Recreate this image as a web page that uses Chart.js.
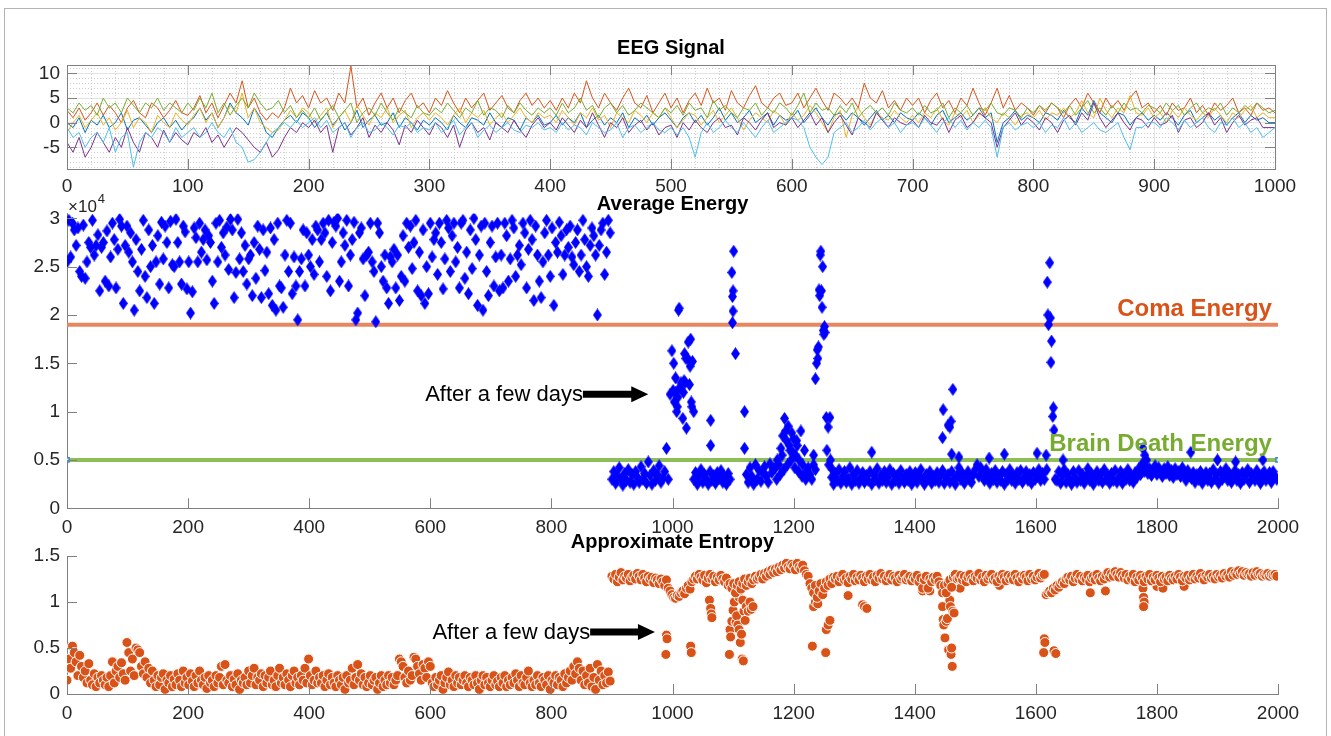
<!DOCTYPE html>
<html lang="en">
<head>
  <meta charset="UTF-8" />
  <title>EEG Signal / Average Energy / Approximate Entropy</title>
  <script src="https://cdn.jsdelivr.net/npm/chart.js"></script>
  <style>
    html, body { margin: 0; background: #fff; overflow: hidden; }
    #frame { position: absolute; left: 4px; top: 8px; width: 1321px; height: 740px; border: 1px solid #b4b4b4; border-bottom: none; }
    canvas { position: absolute; left: 0; }
  </style>
</head>
<body>
  <div id="frame"></div>
  <canvas id="eegChart" width="1331" height="200" style="top:0"></canvas>
  <canvas id="energyChart" width="1331" height="350" style="top:190px"></canvas>
  <canvas id="entropyChart" width="1331" height="216" style="top:520px"></canvas>

  <script>
    const FONT = "'Liberation Sans', Arial, sans-serif";
    const INK = '#262626';

    // ---- EEG signal (one value every 5 samples) ----
    const eegStep = 5;
    const eegXTicks = [0, 100, 200, 300, 400, 500, 600, 700, 800, 900, 1000];
    const eegYTicks = [-5, 0, 5, 10];
    const eegBlue = [0,-1,1,-2,0.5,-0.5,1.5,-1,0,2,-1.5,0.5,1,-0.5,-2,0,1,-1,0.5,-1.5,
      0,1,3,0.5,2,-1,1,4,2,1,-0.5,3,1,-2,-3,-1,0.5,1.5,0,2,
      1,-1,0.5,2,-0.5,1,-1.5,0,2.5,-1,0.5,1.5,-0.5,0,2,-1,1,0,-1.5,0.5,
      -0.5,1,0,-1.5,1.5,0,-1,1,0.5,-0.5,2,0,-1,1,0.5,-1.5,1,0,1.5,-0.5,
      0,1.5,-0.5,1,0,2,-1,0.5,1.5,-0.5,1,0,2,-1,1,0,1.5,-0.5,1,2,
      0.5,-1,1,2,0,1.5,-0.5,1,3,0.5,2,0,1,2.5,0,1,2,-0.5,1.5,0.5,
      1,2.5,0,1.5,3,1,-0.5,1.5,2,0.5,2,1,-0.5,1,2.5,0.5,1.5,0,2,1,
      0.5,2,1,-0.5,1.5,2.5,0,1,2,0.5,1.5,3,1,2,-4,0,1,2.5,0.5,1.5,
      1,0,2,1.5,0.5,2.5,1,0,3,1.5,4.5,2,1,0,2,1.5,-0.5,1,2,0.5,
      1.5,0.5,2,1,-0.5,1.5,2.5,0,1,2,0.5,1.5,-0.5,1,2,0,1.5,0.5,1,0,0];
    const eegOrange = [2.5,1,3,0.5,2,4,1.5,3.5,2,0,3,4.5,2,1,4,3,1,2.5,4.5,2,
      1.5,3,5.5,2,4,1,3.5,6,4,8.5,3,5,2,0.5,2,1,3,7,4,5.5,
      3,6.5,4,5,2.5,6,4,11.5,3,5,1.5,4,6,3,5,2,4.5,6,3,4,
      2,5,3.5,6.5,4,2,5,3,4.5,6,2.5,4,5.5,3,2,4.5,6,3.5,5,3,
      4.5,2.5,5,3,6,4,8.5,5,3,6,4,2.5,5,7,4,3,5.5,2,4,6,
      3,5,2,4.5,6,3.5,7,4,5,2.5,6.5,4,3,5.5,7.5,4,3,5,6,3.5,
      4,6,3,5,7,4.5,2.5,6,5,3.5,5,3,8,5,4,6.5,3,4.5,2.5,5,
      3.5,5,2,4.5,6,3,4.5,2,5,3.5,7,4,1.5,4,7,3,5.5,2.5,4,3,
      1.5,3.5,2,4,3,1,3.5,5,3,6,4,2,5,3,4.5,2.5,5,6.5,3,4,
      2,3.5,1.5,4,2.5,3,5,2,3.5,1.5,4,2.5,3.5,5,2,3,1.5,4,2.5,3,2];
    const eegYellow = [-2,0,1.5,-1,0.5,2,-0.5,1,-1.5,0,2.5,-1,1,0,-2,1.5,0,-1,2,0.5,
      -0.5,1.5,3,0,2,-1,1,3.5,2,6,1,3,0,-1,-2,-1.5,0.5,2.5,1,3,
      2,0,1.5,3,-1,1,2.5,0,3.5,1.5,-0.5,2,1,3,0,1.5,2.5,-1,1,2,
      0.5,2,1,-0.5,1.5,3,0,2,1,2.5,-0.5,1,2,0,1.5,3,1,0,2,1,
      1.5,0,2.5,1,-0.5,2,1,3,0.5,1.5,-1,2,1,0,2.5,1.5,0,2,1,3,
      1,-1,0.5,2,1.5,-0.5,1,2.5,0,1.5,3,1,-1.5,0.5,2,1,0,2.5,1.5,-0.5,
      2,0.5,1.5,3.5,2,0,-2,1,2.5,-3,1.5,3,1,-0.5,2,1,0.5,2.5,1,0,
      1.5,0,2,1,3,0.5,-0.5,2,1,2.5,0,1.5,3,1,0,2,1,-0.5,1.5,2,
      1,2.5,0.5,2,1.5,3,1,2,4.5,2,1,5,2.5,1,3,2,5.5,2,1.5,3,
      1,2,0,2.5,1,3,1.5,0.5,2,1,3,1.5,0,2,1,2.5,3.5,1,2,1,1];
    const eegPurple = [-4,-6,-3,-7,-5,-2,-4,-6,-3,-5,-1,-4,-6,-2,-3,-5,-1.5,-4,-2,-3.5,
      -4.5,-2,-3,-1,-4,-2.5,-5,-3,-1,-2,-3.5,-5,-6,-4,-7,-5.5,-3,-1,-2,0,
      -1,0.5,-2,-0.5,-6,-1,0,-2.5,-1,1,-3,-0.5,-2,0,-1.5,-4.5,-0.5,-2,0.5,-1,
      -2.5,0,-1,-3,-0.5,-5,-1.5,0,-2,-1,-3.5,0,-1,-2,0.5,-1.5,-3,-0.5,1,-1,
      0,-1.5,1,-0.5,-2,0.5,-1,2,-0.5,-3,0,-1,1,-2,-0.5,0.5,-1.5,0,-2.5,-1,
      -0.5,-3,0,-1.5,0.5,-1,-2,0,1,-1,-0.5,-2.5,1,0,-1.5,0.5,2,-1,0,-0.5,
      1,-1,0.5,2,-0.5,1,-2,0,1.5,-0.5,-2.5,1,0,-1,2,0.5,-1,1,0,-0.5,
      0.5,-1,1.5,0,-0.5,1,-2,0.5,1.5,-1,0,2,1,0,-5,-1,0.5,2,-0.5,1,
      0,-1.5,1,0,-2,0.5,1.5,-0.5,2,0.5,4,1,-1,0.5,2,0,-1.5,1,0.5,-1,
      1,-0.5,0,1.5,-2,0.5,1,-1,0,2,-0.5,1,-2,0,1.5,-0.5,0.5,1,-1,-1,-1];
    const eegGreen = [3,2,4,2.5,3.5,1.5,5,3,4,2,5,3.5,2,4,3,5,2.5,4,3,2,
      4,2.5,5,3,6,2,4,1.5,3.5,5,3,6,4,2.5,3,4.5,2,3.5,1,2.5,
      1,3,0.5,2,3.5,1,2.5,4,0,2,3,1.5,4,2,0.5,3,2,1,3.5,2,
      1.5,3,2,4,2.5,1,3,2,4.5,1.5,3,2.5,1,3.5,2,4,2.5,1.5,3,2,
      3,1.5,4,2,3,5,2.5,3.5,1,3,4,2,3.5,1.5,2.5,4,3,2,1,3,
      2,3.5,1.5,4,2.5,3,1,4.5,2.5,3.5,2,1,3,2.5,4,1.5,3,2,4,3,
      1.5,3.5,6,2,4,2.5,3,1.5,3.5,2,4,1,2.5,3.5,2,3,1.5,4,2.5,2,
      3,1.5,3.5,2,2.5,4,1,3,2,3.5,1.5,3,2.5,4,2,1.5,3,2.5,1,3,
      2,3.5,2.5,4,3,2,3.5,1.5,3,4.5,2,3,1.5,3.5,2,4,2.5,3,2,3.5,
      3,2,4,2.5,3.5,1.5,3,4,2,3,2.5,4,1.5,3,2,3.5,2.5,4,3,2,2.5];
    const eegCyan = [-1,-3,-2,-5,-3,-2,-4,-1,-6,-3,-2,-9,-4,-2,-3,-1,-2,-4,-1,-3,
      -2,-1,-3,-2,0,-2,-3,-1,-4,-5,-8,-7.5,-6,-4,-2,-1,0,-1,0.5,-1,
      0,1,-1,0.5,-2,-1,0,-3,-1,0,-2,-1.5,0,-1,-2.5,-0.5,-1,0,-2,-1,
      -1.5,0,-2,-1,0.5,-2.5,-1,0,-3,-1.5,-0.5,-2,-1,0,-1.5,-2,-0.5,-1,0,-1.5,
      -1,-2,0,-1.5,-0.5,-1,-2.5,0,-1,-2,-1.5,0,-3,-1,-0.5,-2,-1,0,-1.5,-2,
      -1,-2.5,-1,-3,-7,-2,0,-2,-1,0.5,-1,-2,0,-1.5,-3,-1,0.5,-2,-1,0,
      1,0.5,-1,-5,-7,-8.5,-7,-2,-1,0,-2,-1,0.5,-1.5,0,1,-1,0,-2,-0.5,
      0,-1,1,-0.5,-2,0,1,-1,0.5,-1.5,0,-1,0.5,-1,-7,-1,0,-1.5,-0.5,0,
      -1,0,-2,-0.5,-1,1,-1.5,0,-2,-1,0,-1.5,-2,-1,0,-3,-5.5,-1,-1,0,
      0,-1,1,0,-1.5,0.5,-1,0,1,-1,-2,0,-0.5,1,-1,0,-2,-1,-3,-2,-1];

    // ---- Average energy, x10^4 (one value every 3 samples, null = above the axis) ----
    const energyStep = 3;
    const energyXTicks = [0, 200, 400, 600, 800, 1000, 1200, 1400, 1600, 1800, 2000];
    const energyYTicks = [0, 0.5, 1, 1.5, 2, 2.5, 3];
    const comaLevel = 1.9;
    const brainDeathLevel = 0.5;
    const energy = [2.55,2.98,2.6,2.95,2.88,2.72,2.9,2.45,2.4,2.93,2.38,2.55,2.75,2.7,2.98,2.62,2.72,2.83,2.25,2.7,
      2.75,2.35,2.87,2.3,2.6,2.95,2.78,2.28,2.68,2.99,2.92,2.12,2.72,2.92,2.65,2.85,2.55,2.05,2.78,2.45,
      2.25,2.68,2.98,2.4,2.18,2.88,2.5,2.72,2.12,2.55,2.82,2.32,2.96,2.58,2.92,2.75,2.28,2.97,2.52,2.5,
      2.99,2.75,2.55,2.32,2.92,2.86,2.27,2.55,2.02,2.24,2.9,2.8,2.55,2.95,2.65,2.78,2.88,2.57,2.82,2.75,
      2.35,2.12,2.95,2.55,2.98,2.7,2.85,2.62,2.91,2.47,2.99,2.88,2.18,2.44,2.99,2.58,2.85,2.45,2.72,2.32,
      2.58,2.62,2.2,2.75,2.38,2.92,2.68,2.18,2.88,2.46,2.65,2.22,2.9,2.1,2.78,2.05,2.95,2.3,2.28,2.08,
      2.62,2.98,2.45,2.95,2.22,2.6,2.3,1.95,2.45,2.58,2.88,2.3,2.85,2.62,2.5,2.78,2.42,2.92,2.88,2.55,
      2.78,2.95,2.85,2.4,2.98,2.25,2.75,2.96,2.92,3.0,2.35,2.55,2.85,2.72,2.98,2.3,2.62,2.78,2.96,1.95,
      2.02,2.85,2.9,2.58,2.2,2.62,2.65,2.95,2.55,2.45,1.93,2.95,2.85,2.5,2.35,2.62,2.28,2.12,2.6,2.55,
      2.68,2.28,2.62,2.15,2.4,2.82,2.35,2.95,2.7,2.92,2.48,2.75,2.98,2.25,2.65,2.2,2.88,2.12,2.5,2.22,
      2.95,2.6,2.78,2.85,2.42,2.95,2.75,2.27,2.58,2.98,2.9,2.45,2.82,2.95,2.55,2.7,2.28,2.95,2.98,2.38,
      2.65,2.22,2.88,2.48,3.0,2.78,2.1,2.62,2.92,2.05,2.95,2.45,2.2,2.75,2.92,2.3,2.6,2.95,2.25,2.62,
      2.28,2.95,2.82,2.35,2.58,2.98,2.9,2.4,2.62,2.72,2.52,2.95,2.85,2.28,2.68,2.98,2.78,2.15,2.92,2.62,
      2.35,2.18,2.55,2.85,2.98,2.62,2.4,2.9,2.1,2.75,2.65,2.96,2.82,2.42,2.62,2.88,2.7,2.92,2.6,2.52,
      2.75,2.88,2.45,2.62,2.98,2.78,2.5,2.4,2.72,2.9,2.82,2.62,2.0,2.72,2.88,2.95,2.42,2.65,2.98,2.85,
      // from sample 900
      .3,.38,.26,.33,.42,.3,.24,.36,.29,.4,.27,.35,.25,.38,.32,.27,.43,.3,.36,.26,
      .48,.34,.25,.39,.29,.35,.44,.27,.31,.38,.62,.3,
      1.18,1.63,1.5,1.2,1.05,2.07,1.3,.93,1.6,.83,1.72,1.47,1.05,
      .3,.37,.25,.33,.4,.27,.35,.3,.25,.38,.29,.34,.26,.37,.31,.39,.27,.33,.25,.36,.3,
      2.44,2.66,1.6,null,null,null,null,1.0,
      .35,.27,.42,.33,.25,.45,.3,.39,.28,.37,.43,.33,.27,.46,.37,.41,
      .42,.5,.45,.62,.75,.93,.7,.85,.6,.78,.72,.55,.65,.5,.8,.45,.6,.38,.42,.35,
      .3,.45,1.34,1.64,2.26,2.66,2.5,1.88,.94,.84,.94,
      .32,.25,.36,.29,.4,.26,.33,.38,.27,.31,.42,.25,.35,.29,.39,.26,.32,.37,.27,.34,
      .29,.38,.25,.35,.3,.41,.26,.34,.29,.38,.27,.32,.4,.25,.36,.29,.34,.26,.39,.31,
      .27,.35,.29,.38,.25,.32,.37,.27,.34,.4,.29,.25,.35,.31,.38,.26,.33,.29,.37,.27,
      .34,.39,.26,.31,.35,.27,.38,.29,.25,.34,.42,.3,.36,.26,.32,.38,.29,.27,.35,.4,
      .45,.33,.42,.37,.29,.4,.34,.26,.36,.3,.39,.27,.34,.29,.38,.25,.35,.3,.4,.29,
      .34,.26,.37,.3,.39,.27,.32,.38,.29,.35,.26,.37,.3,.33,.4,.29,.36,
      .3,.55,2.0,2.54,1.73,1.04,.3,
      .29,.38,.26,.34,.4,.27,.35,.3,.25,.38,.32,.27,.39,.29,.35,.26,.33,.41,.29,.36,
      .25,.32,.38,.29,.35,.27,.4,.3,.34,.26,.36,.29,.39,.27,.32,.38,.26,.35,.3,.4,
      .29,.34,.27,.37,.32,.41,.35,.46,.38,.43,.36,.41,.34,.4,.44,.35,.42,.37,.33,.41,
      .36,.43,.34,.39,.32,.41,.35,.38,.33,.42,.36,.29,.39,.34,.31,.37,.27,.35,.3,.38,
      .26,.33,.37,.29,.36,.27,.4,.31,.35,.26,.38,.3,.33,.41,.29,.36,.27,.32,.39,.29,
      .35,.26,.37,.3,.34,.4,.27,.36,.32,.29,.39,.33,.26,.35,.38,.29,.32,.37,.27,.38,
      .33,.3];
    // extra samples inside the bursts
    const energyExtraX = [1001,1003,1005,1007,1009,1010,1012,1018,1019,1021,1022,1025,1028,1030,1031,1033,1035,
      1063,1063,1099,1100,1100,1099,1119,
      1172,1178,1181,1184,1187,1190,1193,1196,1199,1202,1205,1208,1214,1220,
      1233,1236,1238,1240,1241,1243,1244,1246,1247,1249,1250,1252,1255,1258,1261,1264,
      1329,1446,1447,1455,1458,1460,1461,1463,1473,1523,1548,1602,
      1618,1619,1621,1624,1625,1628,1630,
      1645,1777,1780,1783,1856,1900,1930,1975];
    const energyExtraY = [1.22,1.1,1.35,1.0,1.15,2.05,1.25,1.2,1.32,1.3,1.55,1.55,1.28,1.75,1.1,1.52,1.0,
      .91,.65,2.19,2.25,2.04,1.92,.62,
      .3,.35,.55,.4,.8,.45,.65,.5,.58,.42,.7,.38,.33,.3,
      .55,.4,1.5,1.55,1.67,2.2,2.62,2.25,2.08,1.84,1.8,1.82,.6,.45,.5,.4,
      .58,.73,1.02,.86,.84,.9,.56,1.23,.53,.52,.56,.57,
      .4,2.34,1.9,1.97,1.51,.95,.81,
      .5,.62,.55,.5,.58,.5,.48,.5];

    // ---- Approximate entropy (one value every 3 samples) ----
    const entropyStep = 3;
    const entropyYTicks = [0, 0.5, 1, 1.5];
    const entropy = [.15,.38,.28,.52,.45,.35,.2,.42,.3,.18,.25,.12,.33,.15,.1,.22,.08,.18,.12,.2,
      .15,.1,.18,.08,.2,.35,.12,.25,.3,.18,.34,.22,.15,.56,.45,.25,.38,.2,.5,.48,
      .45,.3,.22,.35,.18,.28,.12,.25,.15,.08,.2,.1,.18,.22,.05,.15,.12,.2,.08,.16,
      .1,.22,.15,.08,.25,.12,.18,.1,.22,.14,.08,.2,.12,.25,.15,.1,.18,.06,.2,.12,
      .15,.08,.2,.12,.18,.3,.1,.32,.15,.12,.2,.08,.16,.1,.22,.05,.15,.12,.18,.1,
      .25,.12,.2,.28,.1,.18,.15,.22,.08,.2,.12,.18,.25,.1,.15,.08,.2,.28,.12,.18,
      .1,.22,.15,.08,.2,.25,.12,.18,.1,.2,.15,.28,.12,.38,.2,.1,.15,.25,.12,.18,
      .12,.2,.08,.15,.22,.1,.18,.12,.08,.2,.15,.1,.18,.05,.2,.12,.15,.28,.1,.18,
      .32,.15,.22,.1,.18,.08,.12,.2,.1,.15,.18,.05,.12,.2,.08,.15,.1,.2,.12,.18,
      .1,.15,.2,.38,.35,.3,.18,.12,.25,.15,.2,.4,.38,.3,.22,.15,.32,.28,.18,.35,
      .3,.12,.08,.18,.1,.15,.2,.05,.12,.18,.24,.1,.15,.08,.2,.12,.18,.1,.15,.2,
      .12,.08,.18,.15,.1,.2,.12,.05,.15,.2,.1,.18,.12,.08,.15,.2,.1,.14,.08,.18,
      .12,.2,.08,.15,.1,.18,.12,.22,.15,.08,.2,.12,.1,.18,.25,.12,.08,.15,.1,.2,
      .12,.08,.18,.15,.1,.2,.05,.15,.12,.2,.1,.18,.15,.08,.22,.12,.18,.25,.15,.3,
      .22,.35,.28,.15,.25,.1,.2,.12,.28,.08,.18,.05,.32,.15,.25,.1,.2,.12,.24,.14,
      // from sample 900
      1.28,1.25,1.3,1.22,1.27,1.32,1.24,1.28,1.26,1.3,1.23,1.27,1.29,1.25,1.31,1.28,1.24,1.3,1.26,1.22,
      1.28,1.25,1.27,1.21,1.26,1.24,1.2,1.25,1.22,1.18,
      1.24,1.15,1.12,1.08,1.05,1.04,1.07,1.06,1.1,1.12,1.09,1.15,1.18,1.14,1.22,1.25,
      1.28,1.25,1.3,1.27,1.24,1.29,1.21,1.26,1.3,1.25,1.28,1.22,1.27,1.24,1.29,1.25,1.22,1.26,1.18,1.2,
      1.15,1.2,1.1,1.18,1.22,1.14,1.2,1.25,1.18,1.22,1.26,1.2,1.24,1.28,1.25,
      1.27,1.3,1.25,1.31,1.28,1.33,1.3,1.35,1.32,1.36,1.33,1.38,1.35,1.4,1.37,1.42,1.38,1.36,1.41,1.39,
      1.35,1.42,1.38,1.36,1.4,1.34,
      1.3,1.28,1.2,1.15,1.1,1.18,1.05,1.12,1.2,1.08,1.15,1.22,1.18,1.25,1.2,1.27,
      1.25,1.28,1.22,1.27,1.3,1.24,1.26,1.21,1.28,1.25,1.3,1.23,1.27,1.24,1.29,1.26,1.22,1.28,1.25,1.3,
      1.24,1.27,1.22,1.29,1.26,1.31,1.25,1.28,1.23,1.27,1.3,1.24,1.28,1.26,1.22,1.29,1.25,1.27,1.3,1.24,
      1.26,1.28,1.23,1.27,1.25,1.29,1.22,1.26,
      1.15,1.24,1.28,1.15,1.25,1.22,1.27,1.24,1.28,1.22,1.18,1.1,
      1.18,1.1,1.2,1.24,1.16,1.27,1.3,1.25,
      1.26,1.29,1.24,1.28,1.22,1.27,1.3,1.25,1.23,1.28,1.26,1.31,1.24,1.27,1.22,1.29,1.25,1.28,1.3,1.24,
      1.26,1.22,1.28,1.25,1.3,1.27,1.23,1.29,1.25,1.28,1.24,1.3,1.26,1.22,1.28,1.25,1.29,1.27,1.23,1.3,
      1.25,1.28,1.24,1.27,1.31,1.26,1.29,1.3,
      1.08,1.1,1.12,1.1,1.15,1.13,1.18,1.16,1.2,1.22,1.2,1.25,
      1.27,1.24,1.28,1.22,1.26,1.3,1.25,1.28,1.23,1.27,1.25,1.29,1.22,1.26,1.28,1.24,1.3,1.26,1.23,1.28,
      1.25,1.29,1.32,1.27,1.31,1.28,1.33,1.3,1.27,1.32,1.29,1.26,1.3,1.24,1.28,1.25,1.3,1.22,1.27,1.24,
      1.29,1.26,1.22,1.28,1.25,1.3,1.23,1.27,1.24,1.29,1.26,1.22,1.28,1.25,1.27,1.23,1.29,1.26,1.24,1.28,
      1.25,1.3,1.27,1.23,1.28,1.26,1.29,1.24,1.27,1.3,1.25,1.28,1.26,1.31,1.27,1.24,1.29,1.27,1.3,1.26,
      1.28,1.25,1.3,1.27,1.29,1.26,1.31,1.28,1.3,1.27,1.33,1.29,1.32,1.3,1.34,1.31,1.33,1.29,1.32,1.3,
      1.31,1.28,1.32,1.29,1.33,1.3,1.31,1.28,1.3,1.29,1.31,1.28,1.3,1.29,1.3,1.28];
    // low outliers
    const entropyExtraX = [990,991,989,1030,1031,1061,1063,1064,1065,
      1094,1095,1096,1098,1100,1102,1104,1105,1106,1108,1110,1110,1112,1114,1115,1116,1117,1118,1120,1122,1125,1128,1130,1133,
      1231,1233,1236,1240,1245,1253,1254,1257,1260,
      1290,1314,1317,1321,1413,1425,
      1444,1446,1447,1448,1450,1452,1454,1456,1458,1459,1460,1461,1462,1463,1465,1475,1540,
      1613,1614,1615,1630,1633,1690,1715,1777,1778,1779,1778,1800,1810,1845];
    const entropyExtraY = [.64,.6,.43,.52,.45,1.02,.93,.87,.83,
      .43,.7,.62,.79,.91,1.0,1.11,.78,.85,.75,.7,1.05,.56,.65,.38,1.02,.36,.9,.8,.95,.9,1.0,.92,.95,
      .52,.95,1.0,.98,1.08,.45,.7,.75,.8,
      1.07,.97,.95,.93,1.12,1.12,
      1.18,.95,.81,.75,.61,.79,.82,.48,1.02,.95,.43,.5,.3,.9,.88,1.15,1.18,
      .45,.6,.56,.47,.44,1.1,1.12,1.15,1.05,1.0,.95,1.17,1.15,1.17];

    function series(vals, step) {
      return vals.map((v, i) => v === null ? null : { x: i * step, y: v }).filter(Boolean);
    }
    function pairs(xs, ys) {
      return xs.map((x, i) => ({ x: x, y: ys[i] }));
    }

    // matlab style diamond marker
    function diamond(w, h, color) {
      const c = document.createElement('canvas');
      c.width = w; c.height = h;
      const g = c.getContext('2d');
      g.fillStyle = color;
      g.beginPath();
      g.moveTo(w / 2, 0); g.lineTo(w, h / 2); g.lineTo(w / 2, h); g.lineTo(0, h / 2);
      g.closePath(); g.fill();
      return c;
    }
    const blueDiamond = diamond(9, 13, '#0000ff');

    // titles, box, inward ticks, minor grid, notes and arrows
    const decor = {
      id: 'decor',
      beforeDatasetsDraw(chart, args, o) {
        if (!o.minorX) return;
        const { ctx, chartArea: a, scales: { x, y } } = chart;
        ctx.save();
        ctx.strokeStyle = '#cdcdcd';
        ctx.lineWidth = 1;
        ctx.setLineDash([1, 2]);
        ctx.beginPath();
        for (let v = x.min + o.minorX; v < x.max; v += o.minorX) {
          if (v % o.majorX === 0) continue;
          const p = Math.round(x.getPixelForValue(v)) + 0.5;
          ctx.moveTo(p, a.top); ctx.lineTo(p, a.bottom);
        }
        for (let v = Math.ceil(y.min); v < y.max; v += o.minorY) {
          if (v % o.majorY === 0) continue;
          const p = Math.round(y.getPixelForValue(v)) + 0.5;
          ctx.moveTo(a.left, p); ctx.lineTo(a.right, p);
        }
        ctx.stroke();
        ctx.restore();
      },
      afterDraw(chart, args, o) {
        const { ctx, chartArea: a, scales: { x, y } } = chart;
        ctx.save();
        const L = 10;
        ctx.strokeStyle = '#808080';
        ctx.lineWidth = 1;
        ctx.beginPath();
        if (o.box) ctx.rect(Math.round(a.left) + 0.5, Math.round(a.top) + 0.5, Math.round(a.right - a.left), Math.round(a.bottom - a.top));
        x.ticks.forEach(t => {
          const p = Math.round(x.getPixelForValue(t.value)) + 0.5;
          ctx.moveTo(p, a.bottom); ctx.lineTo(p, a.bottom - L);
          if (o.box) { ctx.moveTo(p, a.top); ctx.lineTo(p, a.top + L); }
        });
        y.ticks.forEach(t => {
          const p = Math.round(y.getPixelForValue(t.value)) + 0.5;
          ctx.moveTo(a.left, p); ctx.lineTo(a.left + L, p);
          if (o.box) { ctx.moveTo(a.right, p); ctx.lineTo(a.right - L, p); }
        });
        ctx.stroke();

        // title
        ctx.fillStyle = '#000';
        ctx.font = 'bold 20px ' + FONT;
        ctx.textAlign = 'center';
        ctx.textBaseline = 'middle';
        ctx.fillText(o.title, (a.left + a.right) / 2, a.top + o.titleDy);

        // x10^4
        if (o.exponent) {
          ctx.fillStyle = INK;
          ctx.font = '17px ' + FONT;
          ctx.textAlign = 'left';
          ctx.fillText('×10', a.left + 1, a.top - 6);
          const w = ctx.measureText('×10').width;
          ctx.font = '13px ' + FONT;
          ctx.fillText(o.exponent, a.left + 2 + w, a.top - 14);
        }

        (o.notes || []).forEach(n => {
          ctx.fillStyle = n.color;
          ctx.font = (n.bold ? 'bold ' : '') + n.size + 'px ' + FONT;
          ctx.textAlign = n.align;
          ctx.textBaseline = 'alphabetic';
          ctx.fillText(n.text, x.getPixelForValue(n.x), y.getPixelForValue(n.y));
        });

        (o.arrows || []).forEach(ar => {
          const p0 = x.getPixelForValue(ar.x0), p1 = x.getPixelForValue(ar.x1), py = y.getPixelForValue(ar.y);
          ctx.fillStyle = '#000';
          ctx.fillRect(p0, py - 3.5, p1 - p0 - 15, 7);
          ctx.beginPath();
          ctx.moveTo(p1 - 17, py - 8); ctx.lineTo(p1, py); ctx.lineTo(p1 - 17, py + 8);
          ctx.closePath(); ctx.fill();
        });
        ctx.restore();
      }
    };
    Chart.register(decor);

    function axis(min, max, tickValues, fit, pad, gridColor) {
      return {
        type: 'linear', min: min, max: max,
        afterBuildTicks: s => { s.ticks = tickValues.map(v => ({ value: v })); },
        afterFit: s => { if (s.isHorizontal()) s.height = fit; else s.width = fit; },
        ticks: { font: { family: FONT, size: 19 }, color: INK, padding: pad, maxRotation: 0, autoSkip: false, callback: v => String(v) },
        grid: { display: !!gridColor, color: gridColor, drawTicks: false },
        border: { display: true, color: '#808080' }
      };
    }

    function eegLine(vals, color) {
      return { data: series(vals, eegStep), showLine: true, borderColor: color, borderWidth: 1, pointRadius: 0, tension: 0 };
    }

    const common = { responsive: false, animation: false, devicePixelRatio: 1 };

    new Chart(document.getElementById('eegChart'), {
      type: 'scatter',
      data: {
        datasets: [
          eegLine(eegCyan, '#4DBEEE'),
          eegLine(eegGreen, '#77AC30'),
          eegLine(eegPurple, '#7E2F8E'),
          eegLine(eegYellow, '#EDB120'),
          eegLine(eegOrange, '#D95319'),
          eegLine(eegBlue, '#0072BD')
        ]
      },
      options: Object.assign({}, common, {
        layout: { padding: { top: 65, right: 56, left: 0, bottom: 0 } },
        scales: {
          x: axis(0, 1000, eegXTicks, 31, 6, '#e3e3e3'),
          y: axis(-9.4, 11.7, eegYTicks, 67, 7, '#e3e3e3')
        },
        plugins: {
          legend: { display: false }, tooltip: { enabled: false },
          decor: { title: 'EEG Signal', titleDy: -17, box: true, minorX: 20, majorX: 100, minorY: 1, majorY: 5 }
        }
      })
    });

    new Chart(document.getElementById('energyChart'), {
      type: 'scatter',
      data: {
        datasets: [
          { data: series(energy, energyStep), pointStyle: blueDiamond, pointRadius: 5, order: 1 },
          { data: pairs(energyExtraX, energyExtraY), pointStyle: blueDiamond, pointRadius: 5, order: 1 },
          { data: [{ x: 0, y: comaLevel }, { x: 2000, y: comaLevel }], showLine: true, borderColor: '#E8875F', borderWidth: 4, pointRadius: 0, order: 2 },
          { data: [{ x: 0, y: brainDeathLevel }, { x: 2000, y: brainDeathLevel }], showLine: true, borderColor: '#8DBE58', borderWidth: 4,
            pointStyle: 'rect', pointRadius: 3, pointBorderColor: '#3d8ac8', pointBackgroundColor: '#d6e8f5', pointBorderWidth: 1.5, order: 2 }
        ]
      },
      options: Object.assign({}, common, {
        layout: { padding: { top: 23.5, right: 53, left: 0, bottom: 0 } },
        scales: {
          x: axis(0, 2000, energyXTicks, 31.7, 8, null),
          y: axis(0, 3.05, energyYTicks, 67, 7, null)
        },
        plugins: {
          legend: { display: false }, tooltip: { enabled: false },
          decor: {
            title: 'Average Energy', titleDy: -9.5, exponent: '4',
            notes: [
              { text: 'Coma Energy', x: 1990, y: 1.99, size: 24, bold: true, color: '#D95319', align: 'right' },
              { text: 'Brain Death Energy', x: 1990, y: 0.593, size: 24, bold: true, color: '#77AC30', align: 'right' },
              { text: 'After a few days', x: 852, y: 1.11, size: 22, bold: false, color: '#000', align: 'right' }
            ],
            arrows: [{ x0: 852, x1: 960, y: 1.18 }]
          }
        }
      })
    });

    new Chart(document.getElementById('entropyChart'), {
      type: 'scatter',
      data: {
        datasets: [
          { data: series(entropy, entropyStep), pointRadius: 5, backgroundColor: '#D95319', borderColor: '#ffffff', borderWidth: 1 },
          { data: pairs(entropyExtraX, entropyExtraY), pointRadius: 5, backgroundColor: '#D95319', borderColor: '#ffffff', borderWidth: 1 }
        ]
      },
      options: Object.assign({}, common, {
        layout: { padding: { top: 36, right: 53, left: 0, bottom: 0 } },
        scales: {
          x: axis(0, 2000, energyXTicks, 42, 8, null),
          y: axis(0, 1.5, entropyYTicks, 67, 7, null)
        },
        plugins: {
          legend: { display: false }, tooltip: { enabled: false },
          decor: {
            title: 'Approximate Entropy', titleDy: -14,
            notes: [{ text: 'After a few days', x: 864, y: 0.6, size: 22, bold: false, color: '#000', align: 'right' }],
            arrows: [{ x0: 864, x1: 971, y: 0.674 }]
          }
        }
      })
    });
  </script>
</body>
</html>
